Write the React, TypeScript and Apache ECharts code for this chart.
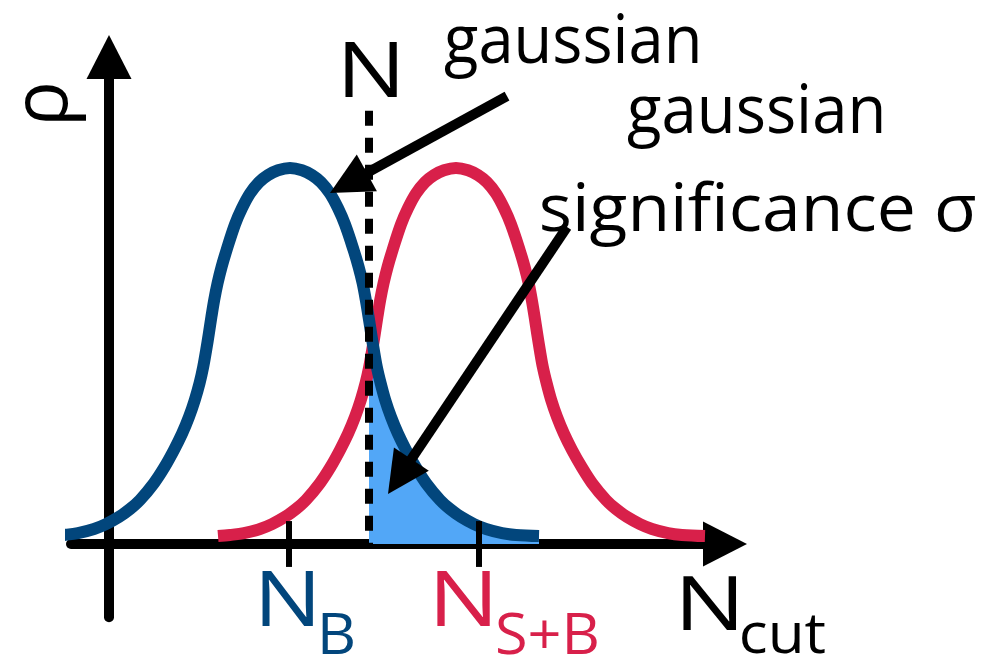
import { useEffect, useRef } from 'react';
import * as echarts from 'echarts';

const FONT = 'Open Sans';
const BLUE = '#02467c';
const RED = '#d8204a';
const FILL = '#52a7f7';
const INK = '#000000';

// Background-only distribution sampled along the curve (x: N, y: ρ with the peak at 100)
const backgroundCurve: [number, number][] = [
  [-2.85, 2.1], [-2.25, 2.4], [-1.55, 2.9], [-0.75, 4.0], [-0.15, 5.3], [0.5, 7.2],
  [1.05, 9.3], [1.55, 11.7], [2.25, 16.2], [2.78, 20.5], [3.25, 25.0], [3.65, 29.3],
  [4.0, 33.8], [4.29, 38.3], [4.53, 42.8], [4.71, 47.1], [4.86, 51.6], [4.99, 55.9],
  [5.12, 60.4], [5.26, 64.9], [5.43, 69.4], [5.63, 73.7], [5.88, 78.2], [6.3, 85.0],
  [6.65, 89.3], [7.05, 93.2], [7.5, 96.2], [7.95, 98.1], [8.45, 99.4], [9.05, 100],
  [9.65, 99.4], [10.15, 98.1], [10.6, 96.2], [11.05, 93.2], [11.45, 89.3], [11.8, 85.0],
  [12.23, 78.2], [12.48, 73.7], [12.68, 69.4], [12.84, 64.9], [13.0, 59.7], [13.11, 55.9],
  [13.24, 51.6], [13.39, 47.1], [13.58, 42.8], [13.81, 38.3], [14.1, 33.8], [14.45, 29.3],
  [14.85, 25.0], [15.33, 20.5], [15.85, 16.2], [16.55, 11.7], [17.05, 9.3], [17.6, 7.2],
  [18.25, 5.3], [18.85, 4.0], [19.65, 2.9], [20.35, 2.4], [21.5, 2.1],
];

// Signal + background distribution
const signalCurve: [number, number][] = [
  [5.45, 2.1], [6.05, 2.4], [6.75, 2.9], [7.55, 4.0], [8.15, 5.3], [8.8, 7.2],
  [9.35, 9.3], [9.85, 11.7], [10.55, 16.2], [11.08, 20.5], [11.55, 25.0], [11.95, 29.3],
  [12.3, 33.8], [12.59, 38.3], [12.83, 42.8], [13.01, 47.1], [13.16, 51.6], [13.29, 55.9],
  [13.42, 60.4], [13.56, 64.9], [13.73, 69.4], [13.93, 73.7], [14.18, 78.2], [14.6, 85.0],
  [14.95, 89.3], [15.35, 93.2], [15.8, 96.2], [16.25, 98.1], [16.75, 99.4], [17.35, 100],
  [17.95, 99.4], [18.45, 98.1], [18.9, 96.2], [19.35, 93.2], [19.75, 89.3], [20.1, 85.0],
  [20.53, 78.2], [20.78, 73.7], [20.98, 69.4], [21.14, 64.9], [21.28, 60.4], [21.41, 55.9],
  [21.54, 51.6], [21.69, 47.1], [21.88, 42.8], [22.11, 38.3], [22.4, 33.8], [22.75, 29.3],
  [23.15, 25.0], [23.63, 20.5], [24.15, 16.2], [24.85, 11.7], [25.35, 9.3], [25.9, 7.2],
  [26.55, 5.3], [27.15, 4.0], [27.95, 2.9], [28.65, 2.4], [29.8, 2.1],
];

// Cut position and the height of its dashed marker
const cutValue = 13.0;
const cutLineTop = 115.2;

// Tick marks on the N axis
const tickValues = [9.0, 18.5];
const tickNames = ['N', 'N'];
const tickSubscripts = ['B', 'S+B'];
const tickColors = [BLUE, RED];
const tickHalfLength = 6.1;

const xRange = [-1.9, 30.8];
const yRange = [-19.5, 129.5];

// Pointer arrows (data coordinates)
const pointers = [
  { from: [19.9, 119.1], to: [11.05, 93.35] },
  { from: [22.9, 84.3], to: [13.95, 13.3] },
];

// Annotation texts: glyph box in page pixels
const annotations = [
  { text: 'N', size: 76, left: 345, right: 397, baseline: 97, color: INK },
  { text: 'gaussian', size: 68, left: 445, right: 698, baseline: 63, color: INK },
  { text: 'gaussian', size: 68, left: 628, right: 882, baseline: 133, color: INK },
  { text: 'significance σ', size: 66, left: 542, right: 975, baseline: 232, color: INK },
];

// Axis titles: N_cut under the arrow of the N axis, ρ beside the vertical axis
const xTitle = [
  { text: 'N', size: 75, left: 683, right: 737, baseline: 630, color: INK },
  { text: 'cut', size: 56, left: 742, right: 825, baseline: 653, color: INK },
];
const yTitle = { text: 'ρ', size: 76, x: 37.5, y: 104 };

// Tick label glyph boxes, relative to the tick position
const tickLabelLayout = [
  { main: [-27, 24], sub: [33, 64] },
  { main: [-42, 11], sub: [18, 118] },
];
const TICK_MAIN_SIZE = 76;
const TICK_SUB_SIZE = 57;
const TICK_MAIN_BASELINE = 626;
const TICK_SUB_BASELINE = 654;

const HEAD_LENGTH = 42;
const HEAD_WIDTH = 42;
const SHAFT_WIDTH = 10;

const measureCtx = document.createElement('canvas').getContext('2d')!;

function measure(text: string, size: number) {
  measureCtx.font = `${size}px "${FONT}"`;
  const m = measureCtx.measureText(text);
  const asc = m.fontBoundingBoxAscent ?? size * 1.069;
  const desc = m.fontBoundingBoxDescent ?? size * 0.293;
  return {
    left: m.actualBoundingBoxLeft,
    right: m.actualBoundingBoxRight,
    central: (asc - desc) / 2,
  };
}

// Horizontal text whose glyphs span [left, right] and sit on the given baseline
function fitText(a: { text: string; size: number; left: number; right: number; baseline: number; color: string }) {
  const m = measure(a.text, a.size);
  const scaleX = (a.right - a.left) / (m.left + m.right);
  return {
    type: 'text',
    x: a.left + m.left * scaleX,
    y: a.baseline - m.central,
    scaleX,
    scaleY: 1,
    z: 10,
    silent: true,
    style: {
      text: a.text,
      fontFamily: FONT,
      fontSize: a.size,
      fill: a.color,
      align: 'left',
      verticalAlign: 'middle',
    },
  };
}

export default function App() {
  const ref = useRef<HTMLDivElement>(null);

  useEffect(() => {
    const chart = echarts.init(ref.current!, null, { renderer: 'svg' });

    const fillData = backgroundCurve.filter(([x]) => x >= cutValue);

    const tickMarks = tickValues.map((v) => [
      { coord: [v, tickHalfLength], lineStyle: { color: INK, width: 6, type: 'solid' } },
      { coord: [v, -tickHalfLength] },
    ]);

    const axisLine = {
      onZero: true,
      symbol: ['none', 'triangle'],
      symbolSize: [45, 44],
      lineStyle: { color: INK, width: 10 },
    };

    const option: any = {
      animation: false,
      backgroundColor: '#ffffff',
      textStyle: { fontFamily: FONT },
      grid: {
        left: 71, top: 57.08, width: 654, height: 560.24,
        containLabel: false, outerBoundsMode: 'none',
      },
      xAxis: {
        type: 'value',
        min: xRange[0],
        max: xRange[1],
        axisLine,
        axisTick: { show: false },
        axisLabel: { show: false },
        splitLine: { show: false },
      },
      yAxis: {
        type: 'value',
        min: yRange[0],
        max: yRange[1],
        axisLine,
        axisTick: { show: false },
        axisLabel: { show: false },
        splitLine: { show: false },
      },
      series: [
        {
          name: 'tail',
          type: 'line',
          data: fillData,
          smooth: 0.35,
          symbol: 'none',
          clip: false,
          lineStyle: { width: 0, opacity: 0 },
          areaStyle: { color: FILL, opacity: 1 },
          z: 2,
        },
        {
          name: 'signal',
          type: 'line',
          data: signalCurve,
          smooth: 0.35,
          symbol: 'none',
          clip: false,
          lineStyle: { color: RED, width: 12, cap: 'butt', join: 'round' },
          z: 3,
        },
        {
          name: 'background',
          type: 'line',
          data: backgroundCurve,
          smooth: 0.35,
          symbol: 'none',
          clip: false,
          lineStyle: { color: BLUE, width: 12, cap: 'butt', join: 'round' },
          z: 4,
        },
        {
          name: 'markers',
          type: 'line',
          data: [],
          z: 5,
          markLine: {
            silent: true,
            symbol: ['none', 'none'],
            label: { show: false },
            animation: false,
            data: [
              [
                { coord: [cutValue, cutLineTop], lineStyle: { color: INK, width: 8, type: [15, 12] } },
                { coord: [cutValue, 0] },
              ],
              ...tickMarks,
            ],
          },
        },
      ],
    };

    chart.setOption(option);

    const toPx = (p: number[]) => chart.convertToPixel({ gridIndex: 0 }, p) as number[];

    const arrowElements: any[] = [];
    pointers.forEach((p) => {
      const a = toPx(p.from);
      const b = toPx(p.to);
      const dx = b[0] - a[0];
      const dy = b[1] - a[1];
      const len = Math.hypot(dx, dy);
      const ux = dx / len;
      const uy = dy / len;
      const bx = b[0] - ux * HEAD_LENGTH;
      const by = b[1] - uy * HEAD_LENGTH;
      const px = (-uy * HEAD_WIDTH) / 2;
      const py = (ux * HEAD_WIDTH) / 2;
      arrowElements.push({
        type: 'line',
        z: 10,
        silent: true,
        shape: { x1: a[0], y1: a[1], x2: bx + ux * 2, y2: by + uy * 2 },
        style: { stroke: INK, lineWidth: SHAFT_WIDTH, lineCap: 'butt' },
      });
      arrowElements.push({
        type: 'polygon',
        z: 10,
        silent: true,
        shape: { points: [[b[0], b[1]], [bx + px, by + py], [bx - px, by - py]] },
        style: { fill: INK },
      });
    });

    const tickLabelElements: any[] = [];
    tickValues.forEach((v, i) => {
      const tx = toPx([v, 0])[0];
      const lay = tickLabelLayout[i];
      tickLabelElements.push(
        fitText({
          text: tickNames[i], size: TICK_MAIN_SIZE,
          left: tx + lay.main[0], right: tx + lay.main[1],
          baseline: TICK_MAIN_BASELINE, color: tickColors[i],
        }),
        fitText({
          text: tickSubscripts[i], size: TICK_SUB_SIZE,
          left: tx + lay.sub[0], right: tx + lay.sub[1],
          baseline: TICK_SUB_BASELINE, color: tickColors[i],
        }),
      );
    });

    const rhoTitle = {
      type: 'text',
      x: yTitle.x,
      y: yTitle.y,
      rotation: Math.PI / 2,
      z: 10,
      silent: true,
      style: {
        text: yTitle.text,
        fontFamily: FONT,
        fontSize: yTitle.size,
        fill: INK,
        align: 'center',
        verticalAlign: 'middle',
      },
    };

    chart.setOption({
      graphic: [
        ...arrowElements,
        ...annotations.map(fitText),
        ...tickLabelElements,
        ...xTitle.map(fitText),
        rhoTitle,
      ],
    });

    return () => {
      chart.dispose();
    };
  }, []);

  return (
    <div
      ref={ref}
      style={{ position: 'absolute', left: 0, top: 0, width: 989, height: 658, background: '#ffffff' }}
    />
  );
}
